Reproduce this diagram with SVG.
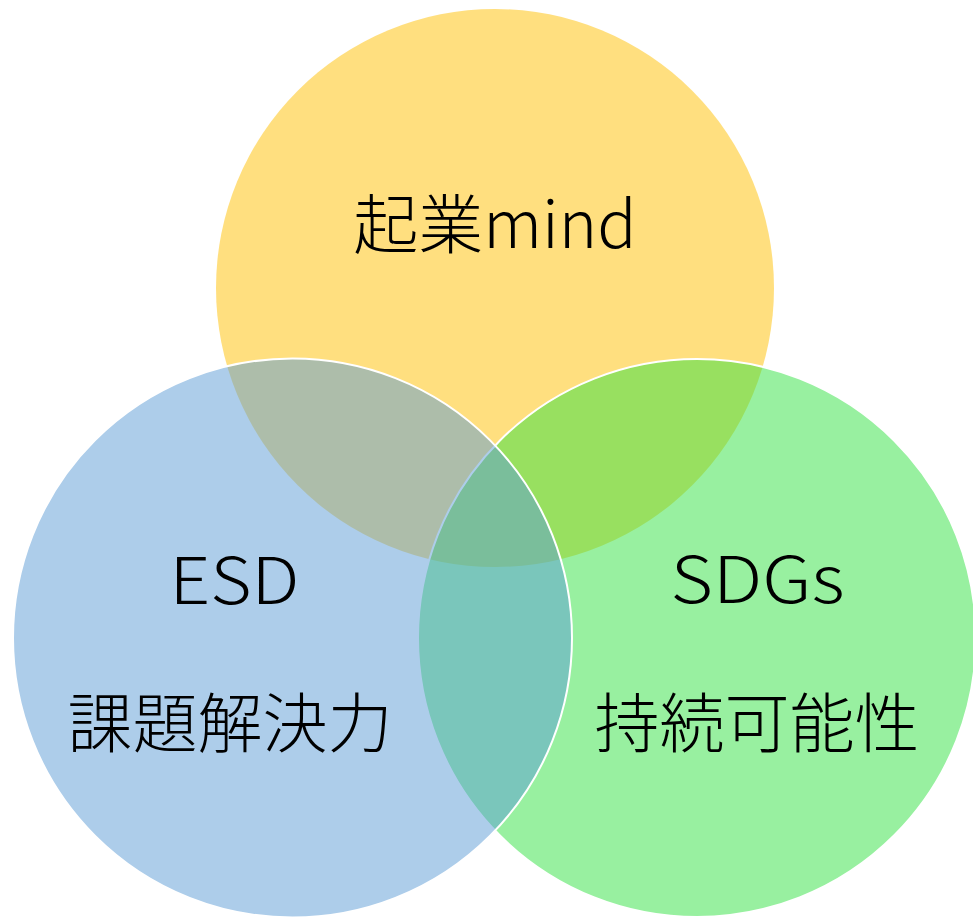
<svg xmlns="http://www.w3.org/2000/svg" width="973" height="917" viewBox="0 0 973 917">
  <style>
    .c { fill-opacity: 0.5; }
    .s { stroke: #FFFFFF; stroke-width: 2; }
    .t { font-family: "Noto Sans CJK JP", "Noto Sans", sans-serif; font-size: 65px; font-weight: 300; fill: #000000; text-anchor: middle; }
  </style>
  <rect x="0" y="0" width="973" height="917" fill="#FFFFFF"/>
  <g id="node-kigyo">
    <circle class="c" cx="495" cy="288" r="279" fill="#FFC000"/>
    <text class="t" x="495" y="248">起業mind</text>
  </g>
  <g id="node-sdgs">
    <circle class="c s" cx="697" cy="638" r="279" fill="#31E141"/>
    <text class="t" x="757.5" y="603" textLength="174" lengthAdjust="spacingAndGlyphs">SDGs</text>
    <text class="t" x="757" y="747">持続可能性</text>
  </g>
  <g id="node-esd">
    <circle class="c s" cx="292.5" cy="638" r="279.5" fill="#5B9BD5"/>
    <text class="t" x="234.5" y="604" textLength="130" lengthAdjust="spacingAndGlyphs">ESD</text>
    <text class="t" x="230" y="747">課題解決力</text>
  </g>
</svg>
